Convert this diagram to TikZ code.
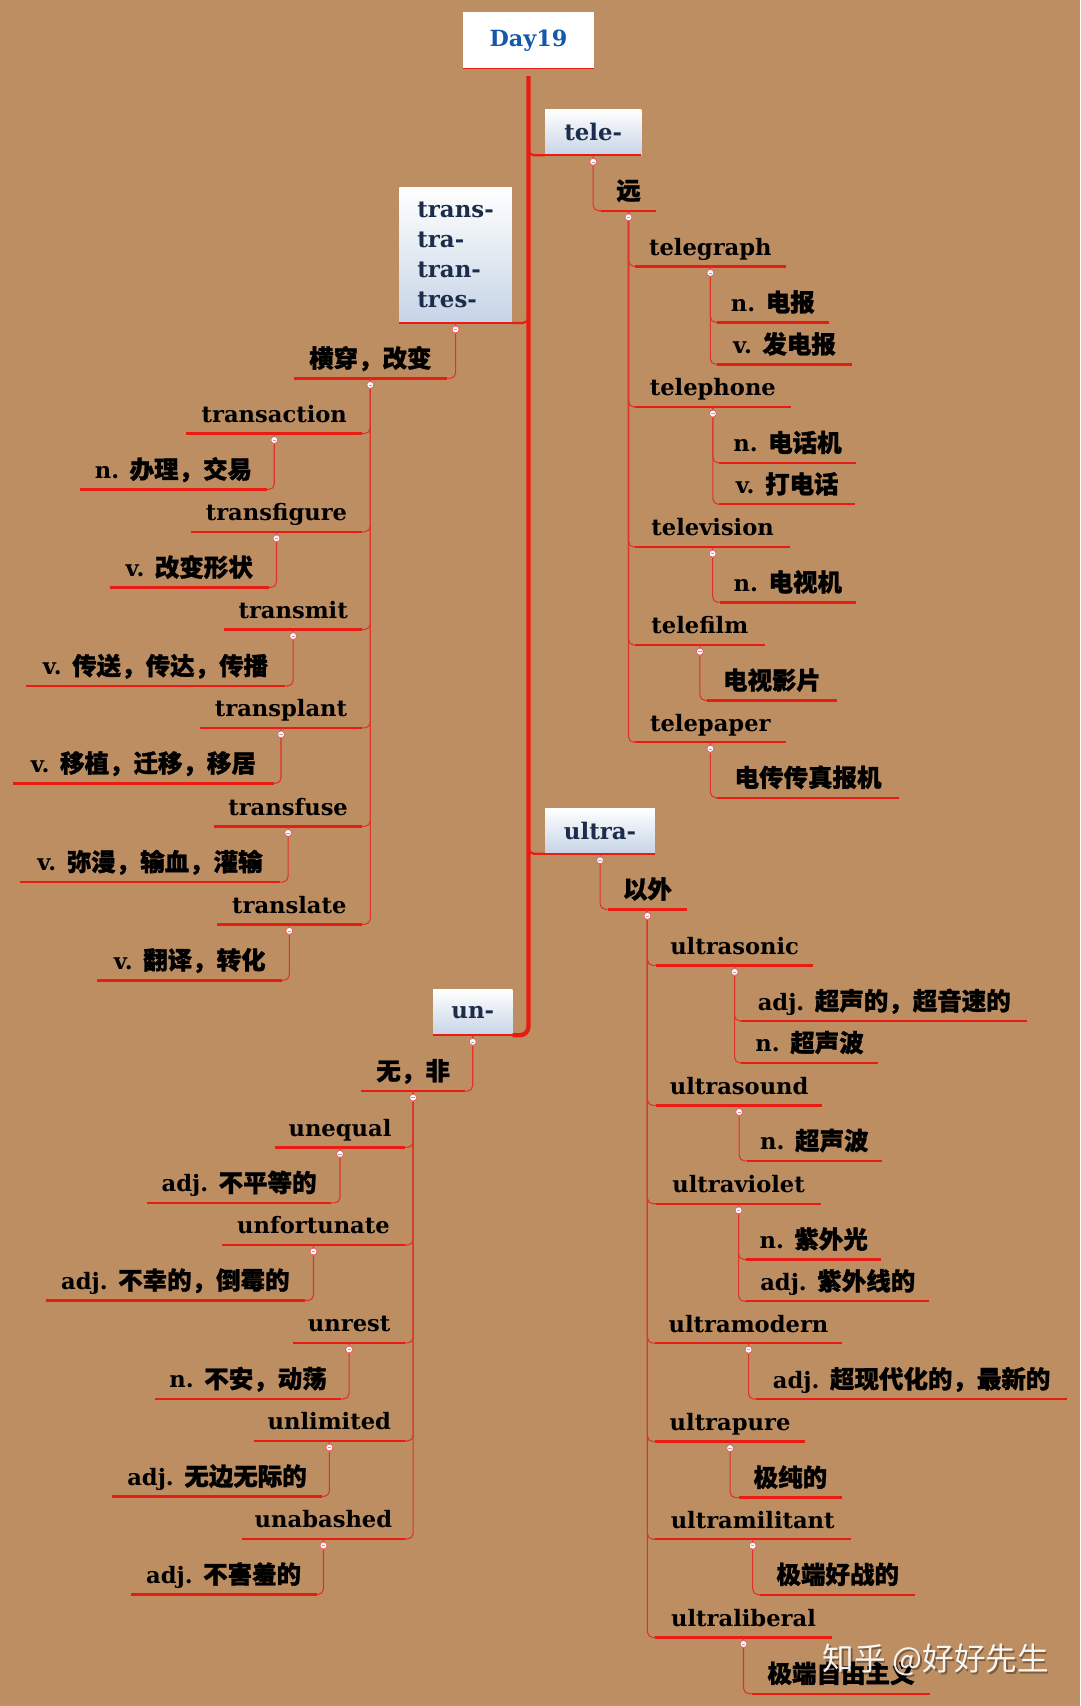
\documentclass[tikz,border=0pt]{standalone}
\usepackage{fontspec}
\setmainfont{DejaVu Serif}
\newfontfamily\cjkfont{Noto Sans CJK SC}[BoldFeatures={FakeBold=1.2}]
\usetikzlibrary{calc}
\definecolor{paper}{RGB}{188,142,98}
\definecolor{lred}{RGB}{232,28,18}
\definecolor{cred}{RGB}{222,52,40}
\definecolor{navy}{RGB}{28,45,75}
\definecolor{dayblue}{RGB}{20,88,170}
\definecolor{boxblue}{RGB}{198,212,230}
\definecolor{dotred}{RGB}{230,100,100}
\newcommand\zh[1]{{\cjkfont\bfseries\fontsize{22.5}{24}\selectfont #1}}
\tikzset{
  leaf/.style={inner xsep=0pt, inner ysep=0pt, text height=16pt, text depth=10pt,
    font=\bfseries\fontsize{20.8}{24}\selectfont, text=black},
  uline/.style={draw=lred, line width=2.2pt},
  conn/.style={draw=cred, line width=1pt, rounded corners=5pt},
  branch/.style={draw=lred, line width=2pt, rounded corners=5pt},
  trunk/.style={draw=lred, line width=4pt, rounded corners=8pt},
  boxline/.style={draw=lred, line width=1.8pt},
  dot/.style={circle, draw=dotred, fill=white, inner sep=0pt, minimum size=6.5pt, line width=0.8pt,
    path picture={\draw[line width=0.5pt, gray!70] ([xshift=-1.5pt]path picture bounding box.center) -- ([xshift=1.5pt]path picture bounding box.center);}},
  topbox/.style={top color=white, bottom color=boxblue, text=navy,
    font=\bfseries\fontsize{21}{27.5}\selectfont, inner sep=0pt},
  daybox/.style={fill=white, text=dayblue, font=\bfseries\fontsize{20.5}{24}\selectfont, inner sep=0pt},
  wmark/.style={font=\cjkfont\fontsize{29}{32}\selectfont, inner sep=0pt}
}
\newcommand\leaf[5]{%
  \node[leaf, minimum width={#3-#2}, anchor=south] (#1) at ({(#2+#3)/2},#4) {#5};
  \draw[uline] (#1.south west) -- (#1.south east);}
\newcommand\cR[2]{\draw[conn] (#1.south) |- (#2.south west);}
\newcommand\cL[2]{\draw[conn] (#1.south) |- (#2.south east);}
\newcommand\dotat[1]{\node[dot] (#1-dot) at ([yshift=-6pt]#1.south) {};}
\begin{document}
\begin{tikzpicture}[x=1pt, y=-1pt]
\fill[paper] (0,0) rectangle (993,1568);
\useasboundingbox (0,0) rectangle (993,1568);

% ---------- main boxes ----------
\node[daybox, minimum width=120.5pt, minimum height=51.5pt] (day) at (485.7,37) {Day19};
\node[topbox, minimum width=88.4pt, minimum height=42pt] (tele) at (545.2,121.5) {tele-};
\node[topbox, minimum width=103.5pt, minimum height=124pt, align=left] (trans) at (418.7,234.6) {trans-\\tra-\\tran-\\tres-};
\node[topbox, minimum width=101pt, minimum height=41.5pt] (ultra) at (551.5,763.75) {ultra-};
\node[topbox, minimum width=73pt, minimum height=41.7pt] (un) at (434.5,930.5) {un-};

% ---------- tele- ----------
\leaf{yuan}{553}{602.3}{193.7}{\zh{远}}
\leaf{tgraph}{584}{721.8}{244.8}{telegraph}
\leaf{tg1}{659}{761.6}{296.3}{n. \zh{电报}}
\leaf{tg2}{659}{783}{334.9}{v. \zh{发电报}}
\leaf{tphone}{584}{726.4}{374.1}{telephone}
\leaf{tp1}{661.4}{786.1}{425.4}{n. \zh{电话机}}
\leaf{tp2}{661.4}{785.6}{463.5}{v. \zh{打电话}}
\leaf{tvis}{584}{726}{502.8}{television}
\leaf{tv1}{661.6}{786.6}{553.6}{n. \zh{电视机}}
\leaf{tfilm}{584}{702.5}{592.9}{telefilm}
\leaf{tf1}{649.8}{769.3}{643.8}{\zh{电视影片}}
\leaf{tpaper}{584}{721.8}{682.2}{telepaper}
\leaf{tpp1}{659}{826.3}{733.2}{\zh{电传传真报机}}

% ---------- trans- ----------
\leaf{heng}{270}{410.7}{347.8}{\zh{横穿，改变}}
\leaf{tact}{171.6}{332.6}{398.4}{transaction}
\leaf{ta1}{73.6}{245.2}{449.9}{n. \zh{办理，交易}}
\leaf{tfig}{175.6}{332.6}{488.8}{transfigure}
\leaf{tfg1}{101.1}{246.7}{540}{v. \zh{改变形状}}
\leaf{tmit}{206.3}{332.6}{578.6}{transmit}
\leaf{tm1}{23.9}{262}{630.5}{v. \zh{传送，传达，传播}}
\leaf{tplant}{184}{332.6}{669}{transplant}
\leaf{tpl1}{12.3}{251.3}{720}{v. \zh{移植，迁移，移居}}
\leaf{tfuse}{197}{332.6}{759.5}{transfuse}
\leaf{tfu1}{18.4}{257.4}{810.7}{v. \zh{弥漫，输血，灌输}}
\leaf{tlate}{199.2}{332.6}{849.6}{translate}
\leaf{tl1}{89.8}{259}{901}{v. \zh{翻译，转化}}

% ---------- ultra- ----------
\leaf{yiwai}{558.6}{631.5}{835.8}{\zh{以外}}
\leaf{usonic}{603}{747.4}{887.3}{ultrasonic}
\leaf{us1}{681.7}{943.7}{938.5}{adj. \zh{超声的，超音速的}}
\leaf{us2}{681.7}{806.5}{977}{n. \zh{超声波}}
\leaf{usound}{603}{755.7}{1016}{ultrasound}
\leaf{usd1}{686.6}{810.4}{1067}{n. \zh{超声波}}
\leaf{uviolet}{603}{754.7}{1106.4}{ultraviolet}
\leaf{uv1}{686}{809.8}{1157.6}{n. \zh{紫外光}}
\leaf{uv2}{686}{854}{1196}{adj. \zh{紫外线的}}
\leaf{umodern}{602}{774}{1234.5}{ultramodern}
\leaf{um1}{695}{980.8}{1286}{adj. \zh{超现代化的，最新的}}
\leaf{upure}{602}{740}{1325}{ultrapure}
\leaf{up1}{679}{774}{1376.5}{\zh{极纯的}}
\leaf{umil}{602}{781.6}{1414.7}{ultramilitant}
\leaf{uml1}{699}{841}{1465.7}{\zh{极端好战的}}
\leaf{ulib}{602}{764.7}{1505}{ultraliberal}
\leaf{ulb1}{691}{855}{1556.7}{\zh{极端自由主义}}

% ---------- un- ----------
\leaf{wufei}{331.8}{427.5}{1002.8}{\zh{无，非}}
\leaf{uneq}{253}{372}{1054.6}{unequal}
\leaf{ue1}{135.5}{304}{1105.6}{adj. \zh{不平等的}}
\leaf{unfort}{204.2}{372}{1144.3}{unfortunate}
\leaf{uf1}{42.1}{280.2}{1195.3}{adj. \zh{不幸的，倒霉的}}
\leaf{unrest}{269.8}{372}{1234.3}{unrest}
\leaf{ur1}{142.5}{313.5}{1285.8}{n. \zh{不安，动荡}}
\leaf{unlim}{233.4}{372}{1324.4}{unlimited}
\leaf{ul1}{102.9}{296}{1375.4}{adj. \zh{无边无际的}}
\leaf{unab}{222.6}{372}{1414.5}{unabashed}
\leaf{ub1}{120.3}{290.7}{1465.5}{adj. \zh{不害羞的}}

% ---------- trunk and branches ----------
\draw[trunk] ([yshift=-7pt]day.south) |- (un.south east);
\draw[branch] ($(tele.south west -| day.south)+(0,12pt)$) |- (tele.south west);
\draw[branch] ($(trans.south east -| day.south)+(0,12pt)$) |- (trans.south east);
\draw[branch] ($(ultra.south west -| day.south)+(0,12pt)$) |- (ultra.south west);
\foreach \b in {day,tele,trans,ultra,un} {\draw[boxline] (\b.south west) -- (\b.south east);}

% ---------- connectors ----------
\cR{tele}{yuan}
\foreach \c in {tgraph,tphone,tvis,tfilm,tpaper} {\cR{yuan}{\c}}
\cR{tgraph}{tg1} \cR{tgraph}{tg2}
\cR{tphone}{tp1} \cR{tphone}{tp2}
\cR{tvis}{tv1}
\cR{tfilm}{tf1}
\cR{tpaper}{tpp1}

\cL{trans}{heng}
\foreach \c in {tact,tfig,tmit,tplant,tfuse,tlate} {\cL{heng}{\c}}
\cL{tact}{ta1} \cL{tfig}{tfg1} \cL{tmit}{tm1} \cL{tplant}{tpl1} \cL{tfuse}{tfu1} \cL{tlate}{tl1}

\cR{ultra}{yiwai}
\foreach \c in {usonic,usound,uviolet,umodern,upure,umil,ulib} {\cR{yiwai}{\c}}
\cR{usonic}{us1} \cR{usonic}{us2}
\cR{usound}{usd1}
\cR{uviolet}{uv1} \cR{uviolet}{uv2}
\cR{umodern}{um1}
\cR{upure}{up1}
\cR{umil}{uml1}
\cR{ulib}{ulb1}

\cL{un}{wufei}
\foreach \c in {uneq,unfort,unrest,unlim,unab} {\cL{wufei}{\c}}
\cL{uneq}{ue1} \cL{unfort}{uf1} \cL{unrest}{ur1} \cL{unlim}{ul1} \cL{unab}{ub1}

% ---------- collapse dots ----------
\foreach \p in {tele,yuan,tgraph,tphone,tvis,tfilm,tpaper,
  trans,heng,tact,tfig,tmit,tplant,tfuse,tlate,
  ultra,yiwai,usonic,usound,uviolet,umodern,upure,umil,ulib,
  un,wufei,uneq,unfort,unrest,unlim,unab} {\dotat{\p}}

% ---------- watermark ----------
\node[wmark, text=black, opacity=0.35] (wmshadow) at (861.5,1527.5) {知乎 @好好先生};
\node[wmark, text=white, opacity=0.92] (wm) at (860,1526) {知乎 @好好先生};
\end{tikzpicture}
\end{document}
